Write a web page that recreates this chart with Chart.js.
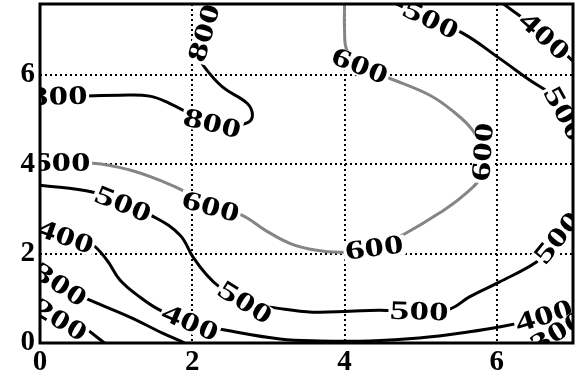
<!DOCTYPE html>
<html><head><meta charset="utf-8">
<script src="https://cdn.jsdelivr.net/npm/chart.js@4/dist/chart.umd.min.js"></script>
<style>html,body{margin:0;padding:0;background:#fff}canvas{display:block}</style>
</head><body>
<canvas id="c" width="576" height="377"></canvas>
<script>
// axis ticks
const xTicks = [0, 2, 4, 6];
const yTicks = [0, 2, 4, 6];
const xMax = 7, yMax = 7.58;

// contour lines [x, y]
const c800 = [[0,5.50],[0.52,5.52],[1.05,5.54],[1.44,5.52],[1.70,5.36],[1.97,5.12],[2.16,4.94],[2.43,4.83],[2.72,4.92],[2.79,5.09],[2.72,5.36],[2.40,5.72],[2.16,6.17],[2.10,6.39],[2.12,6.70],[2.17,7.00],[2.21,7.30],[2.23,7.60]];
const lab800 = [[0.24,5.51],[2.26,4.90],[2.16,6.93]];

const c600 = [[0,4.02],[0.70,4.02],[1.18,3.87],[1.57,3.64],[1.97,3.33],[2.24,3.05],[2.65,2.86],[2.95,2.53],[3.28,2.23],[3.61,2.08],[3.97,2.03],[4.39,2.12],[4.81,2.46],[5.25,2.91],[5.57,3.31],[5.80,3.75],[5.82,4.27],[5.68,4.76],[5.44,5.16],[5.12,5.54],[4.59,5.92],[4.20,6.19],[4.03,6.55],[4.00,6.99],[4.00,7.60]];
const lab600 = [[0.28,4.02],[2.24,3.04],[4.39,2.12],[5.82,4.27],[4.20,6.19]];

const c500top = [[4.66,7.60],[5.13,7.22],[5.55,6.93],[6.03,6.37],[6.43,5.88],[6.78,5.47],[6.90,5.10],[6.98,4.65]];
const lab500top = [[5.13,7.22],[6.88,5.12]];

const c400top = [[6.07,7.60],[6.43,7.15],[6.62,6.86],[6.80,6.62],[7.0,6.30]];
const lab400top = [[6.62,6.86]];

const c500 = [[0,3.53],[0.70,3.37],[1.09,3.10],[1.53,2.79],[1.84,2.41],[2.01,1.92],[2.19,1.52],[2.36,1.25],[2.69,0.90],[3.11,0.78],[3.58,0.69],[4.07,0.71],[4.46,0.73],[4.98,0.70],[5.38,0.76],[5.64,1.03],[6.03,1.36],[6.52,1.81],[6.69,2.12],[6.80,2.35],[6.91,2.68],[7.0,2.95]];
const lab500 = [[1.09,3.10],[2.69,0.90],[4.98,0.70],[6.80,2.35]];

const c400 = [[0,2.57],[0.33,2.37],[0.66,2.23],[0.88,1.85],[1.05,1.41],[1.31,1.03],[1.57,0.74],[1.97,0.45],[2.43,0.29],[3.15,0.09],[3.67,0.045],[4.33,0.045],[4.98,0.11],[5.64,0.25],[6.10,0.38],[6.40,0.49],[6.65,0.62],[6.85,0.75],[7.0,0.88]];
const lab400 = [[0.33,2.37],[1.97,0.45],[6.62,0.60]];

const c300 = [[0,1.59],[0.26,1.30],[0.56,1.03],[1.18,0.58],[1.61,0.22],[1.84,0.045],[1.90,0]];
const lab300 = [[0.26,1.30]];

const c200 = [[0,0.78],[0.26,0.51],[0.56,0.36],[0.75,0.13],[0.85,0]];
const lab200 = [[0.26,0.51]];

const c300r = [[6.43,0],[6.75,0.22],[7.0,0.47]];
const lab300r = [[6.80,0.24]];

const BLACK = '#000', GRAY = '#858585';
function ds(level, pts, labs, color) {
  return {
    level: level,
    clabels: labs,
    data: pts.map(p => ({x: p[0], y: p[1]})),
    showLine: true, borderColor: color, borderWidth: 3,
    pointRadius: 0, tension: 0.4, fill: false
  };
}
const datasets = [
  ds(800, c800, lab800, BLACK),
  ds(600, c600, lab600, GRAY),
  ds(500, c500top, lab500top, BLACK),
  ds(400, c400top, lab400top, BLACK),
  ds(500, c500, lab500, BLACK),
  ds(400, c400, lab400, BLACK),
  ds(300, c300, lab300, BLACK),
  ds(200, c200, lab200, BLACK),
  ds(300, c300r, lab300r, BLACK)
];

const bgPlugin = {
  id: 'bg',
  beforeDraw(chart) {
    const ctx = chart.ctx;
    ctx.save(); ctx.fillStyle = '#fff'; ctx.fillRect(0, 0, chart.width, chart.height); ctx.restore();
  }
};

const labelPlugin = {
  id: 'clabels',
  afterDatasetsDraw(chart) {
    const {ctx, chartArea: a, scales: {x, y}} = chart;
    ctx.save();
    ctx.beginPath(); ctx.rect(a.left, a.top, a.right - a.left, a.bottom - a.top); ctx.clip();
    chart.data.datasets.forEach(d => {
      const pix = d.data.map(p => [x.getPixelForValue(p.x), y.getPixelForValue(p.y)]);
      (d.clabels || []).forEach(l => {
        const px = x.getPixelForValue(l[0]), py = y.getPixelForValue(l[1]);
        let best = Infinity, ang = 0;
        for (let i = 0; i < pix.length - 1; i++) {
          const [x1, y1] = pix[i], [x2, y2] = pix[i + 1];
          const dx = x2 - x1, dy = y2 - y1, L = dx * dx + dy * dy || 1;
          let t = ((px - x1) * dx + (py - y1) * dy) / L;
          t = Math.max(0, Math.min(1, t));
          const qx = x1 + t * dx - px, qy = y1 + t * dy - py;
          const dd = qx * qx + qy * qy;
          if (dd < best) { best = dd; ang = Math.atan2(dy, dx); }
        }
        if (ang > Math.PI / 2) ang -= Math.PI;
        if (ang < -Math.PI / 2) ang += Math.PI;
        const txt = String(d.level);
        ctx.save();
        ctx.translate(px, py); ctx.rotate(ang); ctx.scale(1.45, 1);
        ctx.font = 'bold 27px "Liberation Serif", serif';
        const w = ctx.measureText(txt).width;
        ctx.fillStyle = '#fff';
        ctx.fillRect(-w / 2 - 1, -10, w + 2, 20);
        ctx.fillStyle = '#000'; ctx.textAlign = 'center'; ctx.textBaseline = 'middle';
        ctx.fillText(txt, 0, 1);
        ctx.restore();
      });
    });
    ctx.restore();
  },
  afterDraw(chart) {
    const {ctx, chartArea: a} = chart;
    ctx.save();
    ctx.strokeStyle = '#000'; ctx.lineWidth = 3;
    ctx.strokeRect(a.left, a.top, a.right - a.left, a.bottom - a.top);
    ctx.restore();
  }
};

const tickFont = {family: '"Liberation Serif", serif', size: 29, weight: 'bold'};
const gridColor = c => (c.tick && c.tick.value === 0) ? 'rgba(0,0,0,0)' : '#000';

new Chart(document.getElementById('c'), {
  type: 'scatter',
  data: {datasets: datasets},
  options: {
    responsive: false, animation: false,
    layout: {padding: {top: 4, right: 3, left: 0, bottom: 0}},
    plugins: {legend: {display: false}, tooltip: {enabled: false}},
    scales: {
      x: {
        type: 'linear', min: 0, max: xMax,
        afterBuildTicks: s => { s.ticks = xTicks.map(v => ({value: v})); },
        afterFit: s => { s.height = 34; s.paddingLeft = 0; s.paddingRight = 0; },
        ticks: {font: tickFont, color: '#000', padding: 2, maxRotation: 0, autoSkip: false},
        grid: {color: gridColor, lineWidth: 2, drawTicks: false},
        border: {display: false, dash: [2, 3]}
      },
      y: {
        type: 'linear', min: 0, max: yMax,
        afterBuildTicks: s => { s.ticks = yTicks.map(v => ({value: v})); },
        afterFit: s => { s.width = 40; s.paddingTop = 0; s.paddingBottom = 0; },
        ticks: {font: tickFont, color: '#000', padding: 5, autoSkip: false},
        grid: {color: gridColor, lineWidth: 2, drawTicks: false},
        border: {display: false, dash: [2, 3]}
      }
    }
  },
  plugins: [bgPlugin, labelPlugin]
});
</script>
</body></html>
